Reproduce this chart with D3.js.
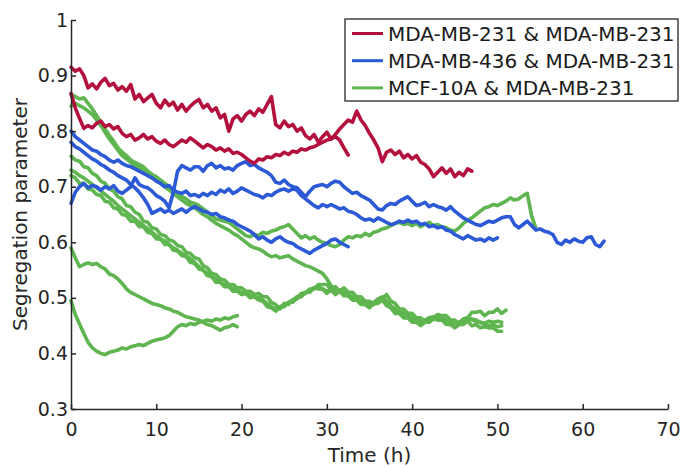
<!DOCTYPE html>
<html>
<head>
<meta charset="utf-8">
<script src="https://cdn.jsdelivr.net/npm/d3@7"></script>
<style>
    body { margin: 0; background: #fff; }
    svg { display: block; font-family: 'DejaVu Sans', sans-serif; }
    .axis path, .axis line { stroke: #262626; stroke-width: 1.5; }
    .axis text { fill: #262626; font-size: 19px; font-family: 'DejaVu Sans', sans-serif; }
</style>
</head>
<body>
<svg id="chart"></svg>
<script>
// Time step of every trace (h)
const step = 0.5;

// MDA-MB-231 & MDA-MB-231
const red1 = [.915,.908,.912,.900,.878,.885,.876,.888,.895,.882,
    .886,.874,.880,.872,.884,.858,.866,.853,.860,.866,
    .850,.842,.856,.846,.852,.838,.848,.836,.845,.852,
    .857,.842,.848,.836,.842,.824,.830,.800,.822,.828,
    .818,.830,.836,.828,.840,.834,.848,.862,.812,.806,
    .818,.808,.812,.800,.806,.792,.786,.794,.780,.790,
    .798,.786,.794,.804,.812,.820,.816,.836,.820,.810,
    .796,.784,.770,.745,.762,.766,.758,.764,.752,.758,
    .750,.756,.744,.740,.732,.718,.726,.734,.724,.732,
    .718,.726,.720,.732,.728];
const red2 = [.868,.842,.823,.805,.810,.806,.814,.818,.808,.812,
    .804,.808,.796,.790,.794,.784,.788,.794,.786,.790,
    .782,.778,.784,.776,.772,.778,.784,.780,.788,.782,
    .776,.770,.776,.772,.766,.770,.764,.768,.760,.762,
    .758,.752,.746,.742,.750,.748,.754,.752,.758,.756,
    .762,.758,.764,.762,.768,.766,.770,.772,.776,.780,
    .784,.786,.790,.784,.770,.757];

// MDA-MB-436 & MDA-MB-231
const blue1 = [.670,.690,.700,.706,.698,.702,.700,.694,.700,.696,
    .702,.692,.688,.694,.700,.716,.704,.700,.698,.692,
    .684,.680,.674,.662,.690,.728,.738,.734,.730,.736,
    .736,.728,.738,.742,.734,.738,.732,.734,.730,.738,
    .742,.745,.738,.740,.734,.730,.726,.720,.708,.706,
    .712,.704,.700,.698,.690,.682,.692,.700,.702,.704,
    .700,.706,.710,.708,.700,.694,.688,.690,.684,.680,
    .676,.668,.660,.658,.666,.670,.668,.674,.678,.682,
    .674,.666,.668,.672,.664,.668,.664,.662,.658,.664,
    .656,.650,.644,.640,.636,.632,.630,.634,.638,.636,
    .640,.644,.646,.646,.632,.626,.632,.638,.630,.622,
    .624,.620,.618,.614,.600,.596,.604,.600,.606,.602,
    .600,.608,.610,.596,.592,.602];
const blue2 = [.800,.790,.784,.778,.772,.766,.764,.758,.754,.748,
    .744,.748,.742,.738,.736,.732,.728,.724,.720,.716,
    .710,.706,.700,.702,.694,.690,.688,.692,.684,.686,
    .682,.688,.684,.690,.686,.694,.690,.696,.688,.692,
    .698,.694,.690,.686,.684,.680,.686,.684,.690,.694,
    .696,.692,.696,.694,.684,.678,.672,.666,.662,.668,
    .664,.668,.664,.660,.662,.656,.654,.650,.644,.640,
    .642,.638,.644,.640,.636,.632,.634,.638,.636,.640,
    .636,.638,.632,.634,.628,.630,.626,.628,.622,.620,
    .614,.610,.606,.612,.608,.604,.606,.602,.608,.604,
    .608];
const blue3 = [.780,.772,.768,.762,.756,.750,.746,.740,.736,.730,
    .726,.720,.716,.712,.704,.698,.690,.680,.668,.652,
    .656,.660,.654,.658,.652,.656,.660,.654,.660,.664,
    .660,.656,.654,.650,.652,.646,.644,.640,.638,.632,
    .628,.624,.620,.614,.606,.610,.604,.600,.606,.610,
    .604,.600,.598,.592,.588,.584,.580,.586,.590,.594,
    .598,.604,.606,.600,.596,.592];

// MCF-10A & MDA-MB-231
const green1 = [.866,.862,.858,.860,.850,.840,.828,.816,.804,.792,
    .782,.770,.762,.756,.748,.744,.740,.736,.728,.722,
    .718,.712,.706,.700,.694,.688,.682,.678,.672,.670,
    .666,.660,.654,.648,.642,.640,.638,.636,.630,.624,
    .618,.612,.610,.614,.612,.618,.616,.620,.622,.626,
    .628,.632,.624,.616,.608,.612,.606,.610,.604,.600,
    .598,.594,.592,.596,.604,.610,.608,.612,.610,.616,
    .612,.618,.620,.624,.626,.630,.634,.636,.632,.634,
    .630,.634,.628,.632,.636,.630,.632,.628,.626,.622,
    .620,.626,.634,.640,.644,.650,.656,.662,.664,.668,
    .666,.670,.674,.680,.676,.678,.684,.688,.648,.626];
const green2 = [.845,.850,.846,.842,.836,.830,.820,.810,.798,.786,
    .776,.766,.756,.750,.744,.738,.734,.730,.722,.716,
    .712,.706,.700,.694,.688,.682,.676,.670,.666,.662,
    .656,.650,.646,.640,.634,.630,.626,.622,.616,.612,
    .606,.600,.594,.590,.588,.584,.578,.574,.576,.572,
    .574,.576,.570,.566,.562,.558,.556,.552,.548,.544,
    .534,.522,.516,.514,.512,.506,.502,.498,.494,.490,
    .488,.492,.498,.502,.494,.486,.480,.476,.472,.468,
    .464,.460,.458,.460,.464,.466,.468,.464,.460,.456,
    .454,.456,.460,.464,.462,.460,.456,.452,.450,.452,
    .448,.450];
const green3 = [.755,.748,.746,.736,.734,.724,.720,.710,.706,.696,
    .692,.682,.678,.666,.664,.654,.650,.638,.636,.626,
    .624,.614,.612,.604,.602,.594,.592,.582,.580,.572,
    .570,.558,.554,.544,.542,.534,.532,.524,.524,.518,
    .518,.512,.512,.506,.508,.502,.502,.492,.488,.480,
    .490,.488,.496,.498,.508,.508,.516,.516,.524,.524,
    .524,.514,.520,.512,.518,.510,.510,.502,.502,.494,
    .494,.488,.496,.498,.506,.494,.490,.480,.480,.472,
    .472,.464,.464,.458,.464,.464,.470,.468,.468,.460,
    .460,.454,.462,.464,.474,.474,.476,.468,.474,.474,
    .480,.472,.478];
const green4 = [.730,.726,.720,.716,.710,.704,.698,.692,.686,.680,
    .674,.666,.660,.654,.648,.642,.636,.630,.624,.618,
    .612,.606,.602,.596,.590,.586,.580,.576,.570,.564,
    .556,.550,.544,.538,.534,.528,.524,.520,.516,.512,
    .510,.508,.504,.502,.500,.496,.490,.484,.480,.484,
    .488,.492,.496,.502,.506,.510,.514,.518,.520,.516,
    .512,.514,.510,.512,.508,.504,.500,.496,.492,.488,
    .486,.490,.496,.498,.492,.484,.478,.474,.470,.466,
    .462,.458,.456,.458,.462,.464,.466,.462,.458,.454,
    .452,.454,.458,.462,.460,.458,.456,.454,.458,.456,
    .458,.456];
const green5 = [.720,.716,.706,.706,.696,.694,.686,.684,.674,.672,
    .662,.660,.650,.648,.638,.638,.628,.628,.618,.616,
    .606,.606,.596,.596,.586,.584,.576,.574,.564,.562,
    .552,.550,.540,.538,.528,.528,.520,.520,.512,.512,
    .506,.508,.500,.502,.496,.494,.484,.482,.476,.484,
    .484,.492,.492,.500,.502,.510,.510,.518,.516,.516,
    .508,.514,.506,.512,.504,.504,.496,.496,.488,.488,
    .482,.490,.490,.496,.486,.482,.472,.472,.464,.464,
    .456,.456,.450,.456,.456,.462,.460,.460,.452,.452,
    .446,.452,.452,.458,.450,.452,.446,.448,.446,.446,
    .440,.440];
const green6 = [.590,.572,.556,.560,.563,.560,.562,.556,.552,.543,
    .540,.534,.526,.516,.510,.506,.502,.498,.494,.490,
    .488,.486,.482,.480,.476,.474,.470,.466,.464,.462,
    .460,.456,.452,.450,.446,.442,.446,.448,.452,.448];
const green7 = [.495,.470,.453,.436,.420,.410,.404,.400,.398,.402,
    .404,.406,.410,.408,.412,.414,.416,.414,.418,.422,
    .424,.426,.428,.432,.440,.448,.452,.450,.454,.452,
    .456,.458,.460,.458,.462,.460,.464,.462,.466,.468];

// Legend entries and colours
const groups = ['MDA-MB-231 & MDA-MB-231', 'MDA-MB-436 & MDA-MB-231', 'MCF-10A & MDA-MB-231'];
const colors = ['#b3103d', '#2c5ad6', '#5fb54f'];

// Traces grouped by legend entry (drawn green first, red last)
const traces = [
    { group: 2, values: green1 }, { group: 2, values: green2 }, { group: 2, values: green3 },
    { group: 2, values: green4 }, { group: 2, values: green5 }, { group: 2, values: green6 },
    { group: 2, values: green7 },
    { group: 1, values: blue1 }, { group: 1, values: blue2 }, { group: 1, values: blue3 },
    { group: 0, values: red1 }, { group: 0, values: red2 }
];

// Axis ticks
const xTicks = [0, 10, 20, 30, 40, 50, 60, 70];
const yTicks = [0.3, 0.4, 0.5, 0.6, 0.7, 0.8, 0.9, 1];
const yTickLabels = ['0.3', '0.4', '0.5', '0.6', '0.7', '0.8', '0.9', '1'];

// Set up SVG dimensions
const width = 682;
const height = 468;
const margin = { top: 20, right: 14, bottom: 59, left: 71 };

const svg = d3.select('#chart')
    .attr('width', width)
    .attr('height', height);

// Define scales
const xScale = d3.scaleLinear().domain([0, 70]).range([margin.left, width - margin.right]);
const yScale = d3.scaleLinear().domain([0.3, 1]).range([height - margin.bottom, margin.top]);

// Lines
const line = d3.line()
    .x((d, i) => xScale(i * step))
    .y(d => yScale(d));

svg.append('g')
    .selectAll('path')
    .data(traces)
    .join('path')
    .attr('d', d => line(d.values))
    .attr('fill', 'none')
    .attr('stroke', d => colors[d.group])
    .attr('stroke-width', 3.6)
    .attr('stroke-linejoin', 'round')
    .attr('stroke-linecap', 'round');

// Axes, ticks pointing inward
const xAxis = d3.axisBottom(xScale)
    .tickValues(xTicks)
    .tickSizeInner(-5)
    .tickSizeOuter(0)
    .tickPadding(14);
const yAxis = d3.axisLeft(yScale)
    .tickValues(yTicks)
    .tickFormat((d, i) => yTickLabels[i])
    .tickSizeInner(-5)
    .tickSizeOuter(0)
    .tickPadding(3);

svg.append('g')
    .attr('class', 'axis')
    .attr('transform', `translate(0,${yScale(0.3)})`)
    .call(xAxis);
svg.append('g')
    .attr('class', 'axis')
    .attr('transform', `translate(${xScale(0)},0)`)
    .call(yAxis);

// Axis labels
svg.append('text')
    .attr('x', (xScale(0) + xScale(70)) / 2)
    .attr('y', 462)
    .attr('text-anchor', 'middle')
    .attr('fill', '#262626')
    .style('font-size', '20px')
    .text('Time (h)');

svg.append('text')
    .attr('transform', 'rotate(-90)')
    .attr('x', -(yScale(0.3) + yScale(1)) / 2)
    .attr('y', 27)
    .attr('text-anchor', 'middle')
    .attr('fill', '#262626')
    .style('font-size', '20px')
    .text('Segregation parameter');

// Legend
const legend = svg.append('g');
legend.append('rect')
    .attr('x', 345)
    .attr('y', 19)
    .attr('width', 333)
    .attr('height', 82)
    .attr('fill', '#fff')
    .attr('stroke', '#262626')
    .attr('stroke-width', 1.3);

const entries = legend.selectAll('g.entry')
    .data(groups)
    .join('g')
    .attr('class', 'entry')
    .attr('transform', (d, i) => `translate(0,${33.5 + i * 27.2})`);

entries.append('line')
    .attr('x1', 352)
    .attr('x2', 383)
    .attr('stroke', (d, i) => colors[i])
    .attr('stroke-width', 3);

entries.append('text')
    .attr('x', 388)
    .attr('dy', '0.36em')
    .attr('fill', '#1a1a1a')
    .style('font-size', '20px')
    .text(d => d);
</script>
</body>
</html>
